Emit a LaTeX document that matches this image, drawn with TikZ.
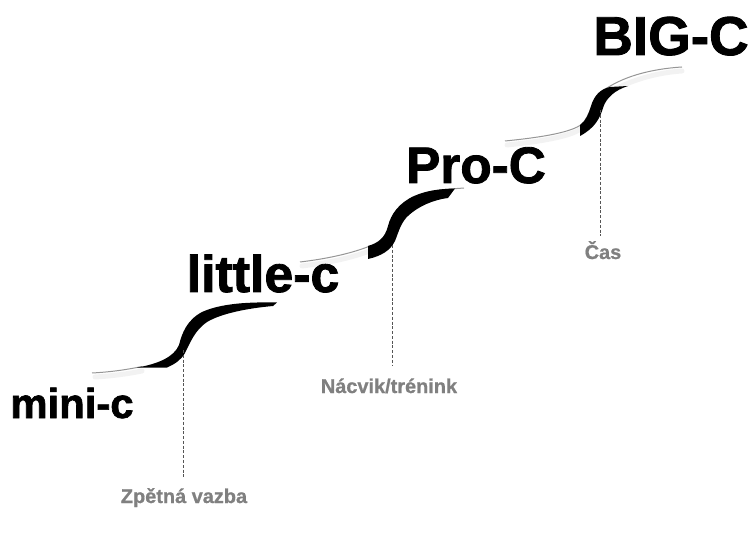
\documentclass[tikz,border=0pt]{standalone}
\usepackage{fontspec}
\setmainfont{Liberation Sans}
\newfontfamily\headfont{Liberation Sans Bold}[FakeBold=1.6]
\newfontfamily\labfont{Liberation Sans Bold}[FakeBold=0.8]
\definecolor{labelgray}{RGB}{128,128,128}
\definecolor{linegray}{RGB}{150,150,150}
\definecolor{dashgray}{RGB}{85,85,85}
\tikzset{
  levelname/.style={text=black, inner sep=0pt, anchor=base},
  factor/.style={font=\fontsize{20}{20}\selectfont\labfont, text=labelgray, inner sep=0pt, anchor=base},
  thinline/.style={draw=linegray, line width=1pt},
  shadowline/.style={draw=black, opacity=0.05, line width=5pt, line cap=round},
  guide/.style={draw=dashgray, line width=0.9pt, dash pattern=on 3pt off 1.8pt},
  swoosh/.style={fill=black}
}
\begin{document}
\begin{tikzpicture}[x=1bp,y=-1bp]
\useasboundingbox (0,0) rectangle (751,546);
\fill[white] (0,0) rectangle (751,546);

% shadows
\draw[shadowline] (95,377) .. controls (112,376) and (127,374) .. (142,371);
\draw[shadowline] (302,266) .. controls (327,263) and (352,258) .. (372,250);
\draw[shadowline] (507,145) .. controls (545,141) and (572,136) .. (582,128);
\draw[shadowline] (605,95) .. controls (622,84) and (650,73) .. (682,71);

% step 1
\draw[thinline] (92,373) .. controls (110,372) and (125,370) .. (142,366.5);
\fill[swoosh] (137,367.5) .. controls (158,364) and (174,357) .. (179,345)
  .. controls (182,333) and (187,320) .. (202,312)
  .. controls (222,303) and (250,302) .. (277,302.5)
  -- (273,306) .. controls (250,308) and (222,313) .. (207,322)
  .. controls (195,330) and (190,343) .. (185,353)
  .. controls (181,360) and (175,364) .. (167,367.5) -- cycle;

% step 2
\draw[thinline] (300,262) .. controls (325,259) and (350,254) .. (370,246);
\draw[thinline] (440,190) .. controls (450,189) and (457,188.5) .. (464,188);
\fill[swoosh] (368,246) .. controls (378,243) and (385,238) .. (388,226)
  .. controls (391,214) and (399,203) .. (414,196)
  .. controls (428,190) and (440,189) .. (455,188.5)
  -- (448,198) .. controls (432,200) and (418,207) .. (409,215)
  .. controls (401,222) and (399,231) .. (395,241)
  .. controls (390,251) and (381,256) .. (368,259) -- cycle;

% step 3
\draw[thinline] (505,141) .. controls (545,137) and (572,132) .. (582,124)
  .. controls (590,116) and (592,100) .. (600,93)
  .. controls (620,77) and (650,69) .. (682,67);
\fill[swoosh] (580,125) .. controls (586,121) and (589,113) .. (591,106)
  .. controls (594,96) and (600,89) .. (610,87) -- (628,86)
  .. controls (615,90) and (606,98) .. (603,108)
  .. controls (600,118) and (595,128) .. (580,136) -- cycle;

% level names
\node[levelname, font=\fontsize{42}{42}\selectfont\headfont] (mini) at (72,418) {mini-c};
\node[levelname, font=\fontsize{52}{52}\selectfont\headfont] (little) at (263,292) {little-c};
\node[levelname, font=\fontsize{51.5}{51.5}\selectfont\headfont] (pro) at (476,183) {Pro-C};
\node[levelname, font=\fontsize{55}{55}\selectfont\headfont] (big) at (671,55) {BIG-C};

% factor labels
\node[factor] (fb) at (184,503) {Zpětná vazba};
\node[factor] (tr) at (389,393) {Nácvik/trénink};
\node[factor] (cas) at (603,259) {Čas};

% guide lines
\coordinate (g1a) at (183,350);
\coordinate (g1b) at (183,477);
\coordinate (g2a) at (392,245);
\coordinate (g2b) at (392,365);
\coordinate (g3a) at (600,110);
\coordinate (g3b) at (600,236);
\draw[guide] (g1a) -- (g1b);
\draw[guide] (g2a) -- (g2b);
\draw[guide] (g3a) -- (g3b);
\end{tikzpicture}
\end{document}
